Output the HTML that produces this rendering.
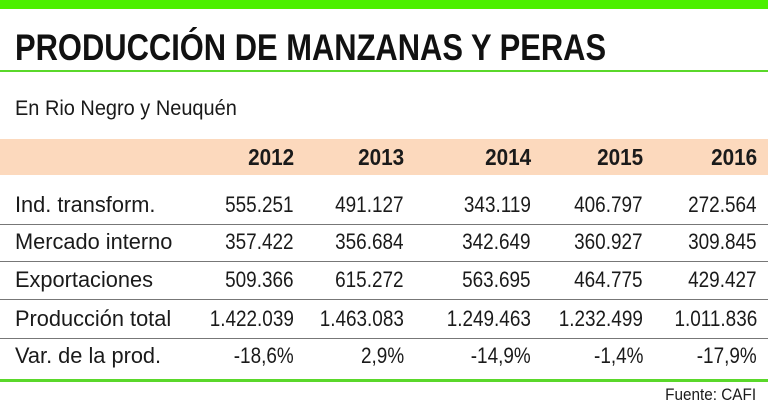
<!DOCTYPE html>
<html><head><meta charset="utf-8"><style>
body{margin:0;width:768px;height:415px;background:#fff;position:relative;overflow:hidden;font-family:"Liberation Sans",sans-serif;color:#1a1a1a}
.a{position:absolute;white-space:nowrap}
.l{transform:scaleX(.99);transform-origin:left center}
.r{transform:scaleX(.86);transform-origin:right center;text-align:right}
.sep{position:absolute;left:0;width:768px;height:1px;background:#777}
</style></head><body>
<div class="a" style="left:0;top:0;width:768px;height:9px;background:#4cf000"></div>
<div class="a l" style="left:15px;top:28px;font-size:37px;font-weight:bold;color:#111;line-height:40px;transform:scaleX(.835)">PRODUCCIÓN DE MANZANAS Y PERAS</div>
<div class="a" style="left:0;top:70px;width:768px;height:2px;background:#5ad82a"></div>
<div class="a l" style="left:15px;top:96px;font-size:21px;line-height:26px;transform:scaleX(.95)">En Rio Negro y Neuquén</div>
<div class="a" style="left:0;top:139px;width:768px;height:36px;background:#fcd9bd"></div>
<div id="t"></div>
<div class="a" style="left:0;top:379px;width:768px;height:3px;background:#5ad82a"></div>
<div class="a" style="right:12px;top:385px;font-size:17px;line-height:20px;transform:scaleX(.9);transform-origin:right center">Fuente: CAFI</div>
<script>
var xs=[294,404,531,643,757];
var h='';
['2012','2013','2014','2015','2016'].forEach(function(y,i){h+='<div class="a r" style="right:'+(768-xs[i])+'px;top:144px;font-size:23px;font-weight:bold;line-height:26px;transform:scaleX(.9)">'+y+'</div>';});
var rows=[["Ind. transform.","555.251","491.127","343.119","406.797","272.564"],
["Mercado interno","357.422","356.684","342.649","360.927","309.845"],
["Exportaciones","509.366","615.272","563.695","464.775","429.427"],
["Producción total","1.422.039","1.463.083","1.249.463","1.232.499","1.011.836"],
["Var. de la prod.","-18,6%","2,9%","-14,9%","-1,4%","-17,9%"]];
var ys=[192,229,267,306,343];
rows.forEach(function(r,j){
h+='<div class="a l" style="left:15px;top:'+ys[j]+'px;font-size:22px;line-height:26px">'+r[0]+'</div>';
for(var i=0;i<5;i++)h+='<div class="a r" style="right:'+(768-xs[i])+'px;top:'+ys[j]+'px;font-size:22px;line-height:26px">'+r[i+1]+'</div>';
if(j<4)h+='<div class="sep" style="top:'+(ys[j]+32)+'px"></div>';
});
document.getElementById('t').innerHTML=h;
</script>
</body></html>
